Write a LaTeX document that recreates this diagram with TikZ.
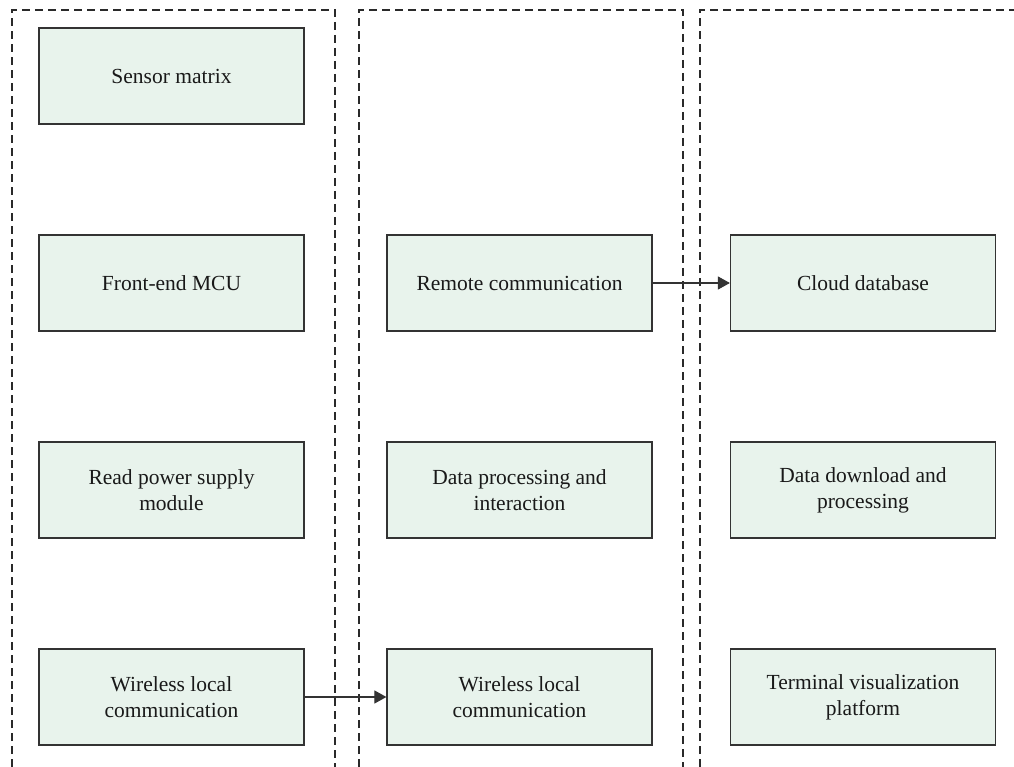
\documentclass[tikz,border=0pt]{standalone}
\usepackage{fontspec}
\setmainfont{Liberation Serif}
\usetikzlibrary{arrows.meta}
\definecolor{boxfill}{HTML}{E8F3EC}
\definecolor{boxline}{HTML}{333333}
\definecolor{dashline}{HTML}{2A2A2A}
\tikzset{
  blockbox/.style={draw=boxline, fill=boxfill, line width=1.2pt, minimum width=265pt, minimum height=96pt, align=center, inner sep=0pt, text=black!90, font=\fontsize{21.5}{26}\selectfont},
  lane/.style={draw=dashline, line width=1.1pt, dash pattern=on 8pt off 5pt},
  flow/.style={draw=boxline, line width=1.1pt, -{Triangle[length=12pt,width=13pt]}}
}
\begin{document}
\begin{tikzpicture}[x=1pt,y=-1pt]
\useasboundingbox (0,0) rectangle (1014,767);
\clip (0,0) rectangle (1014,767);
% lanes
\draw[lane] (12,767) -- (12,10) -- (335,10) -- (335,767);
\draw[lane] (359,767) -- (359,10) -- (683,10) -- (683,767);
\draw[lane] (700,767) -- (700,10) -- (1014,10);
% left column
\node[blockbox] (sensor) at (171.5,76) {Sensor matrix};
\node[blockbox] (mcu) at (171.5,283) {Front-end MCU};
\node[blockbox] (power) at (171.5,490) {Read power supply\\module};
\node[blockbox] (wl1) at (171.5,697) {Wireless local\\communication};
% middle column
\node[blockbox] (remote) at (519.5,283) {Remote communication};
\node[blockbox] (dpi) at (519.5,490) {Data processing and\\interaction};
\node[blockbox] (wl2) at (519.5,697) {Wireless local\\communication};
% right column
\node[blockbox] (cloud) at (863,283) {Cloud database};
\node[blockbox] (ddp) at (863,490) {Data download and\\processing};
\node[blockbox] (tvp) at (863,697) {Terminal visualization\\platform};
% connectors
\draw[flow] (remote.east) -- (cloud.west);
\draw[flow] (wl1.east) -- (wl2.west);
\end{tikzpicture}
\end{document}
